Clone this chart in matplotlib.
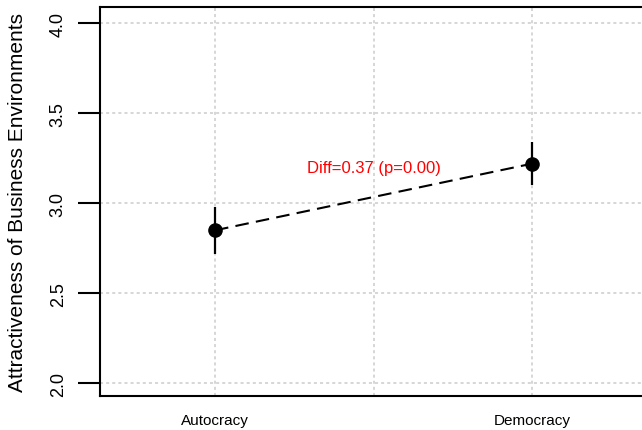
import numpy as np
import matplotlib
matplotlib.use("Agg")
import matplotlib.pyplot as plt

plt.rcParams['font.family'] = ['Liberation Sans', 'DejaVu Sans']

# regime type estimates with 95% intervals
regimes = ['Autocracy', 'Democracy']
positions = [0, 1]
estimates = [2.85, 3.22]
lower = [2.72, 3.10]
upper = [2.98, 3.34]
diff_label = 'Diff=0.37 (p=0.00)'

y_ticks = [2.0, 2.5, 3.0, 3.5, 4.0]
x_grid = [0, 0.5, 1, 1.5]

fig = plt.figure(figsize=(6.42, 4.31), dpi=100)
ax = fig.add_axes([100 / 642, 34 / 431, 1 - 100 / 642, 389 / 431])

grid_kw = dict(color='#cccccc', lw=1.1, dashes=(2, 2), zorder=0)
for gx in x_grid:
    ax.axvline(gx, **grid_kw)
for gy in y_ticks:
    ax.axhline(gy, **grid_kw)

# confidence intervals
for x, lo, hi in zip(positions, lower, upper):
    ax.plot([x, x], [lo, hi], color='black', lw=1.6, solid_capstyle='butt', zorder=3)

ax.plot(positions, estimates, color='black', lw=1.5, dashes=(6.5, 3.5), zorder=2)
ax.plot(positions, estimates, 'o', color='black', ms=9.5, zorder=4)

ax.text(0.5, 3.2, diff_label, color='red', fontsize=12, ha='center', va='center')

ax.set_xlim(-0.363, 1.347)
ax.set_ylim(1.93, 4.09)

ax.set_yticks(y_ticks)
ax.set_yticklabels([f'{v:.1f}' for v in y_ticks])
ax.tick_params(axis='y', length=16, width=1.5, pad=8, labelsize=13, labelrotation=90)
for lab in ax.get_yticklabels():
    lab.set_va('center')

ax.set_xticks(positions)
ax.set_xticklabels(regimes)
ax.tick_params(axis='x', length=0, pad=12, labelsize=11)

for side in ['left', 'bottom', 'top']:
    ax.spines[side].set_linewidth(1.5)
ax.spines['right'].set_visible(False)

fig.text(18 / 642, 1 - 202 / 431, 'Attractiveness of Business Environments',
         rotation=90, ha='center', va='center', fontsize=15)

fig.savefig('out.png', dpi=100)
